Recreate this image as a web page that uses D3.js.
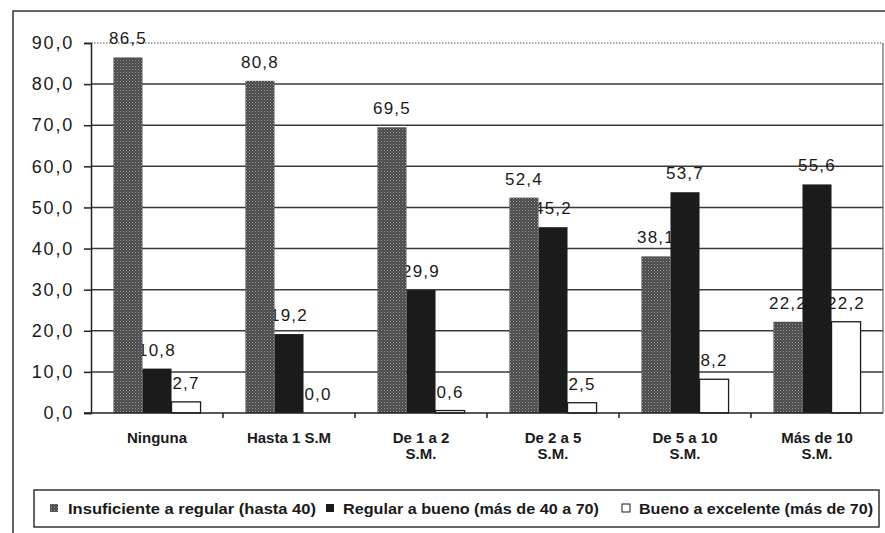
<!DOCTYPE html>
<html lang="es">
<head>
<meta charset="UTF-8">
<script src="https://d3js.org/d3.v7.min.js"></script>
<style>
body { margin: 0; background: #fff; }
svg { display: block; }
text { font-family: "Liberation Sans", Arial, sans-serif; fill: #1a1a1a; }
</style>
</head>
<body>
<svg id="chart" width="885" height="533"></svg>
<script>
// categories (x groups), two lines each
var categories = ["Ninguna", "Hasta 1 S.M", "De 1 a 2 S.M.", "De 2 a 5 S.M.", "De 5 a 10 S.M.", "Más de 10 S.M."];
var categoryLines = [["Ninguna"], ["Hasta 1 S.M"], ["De 1 a 2", "S.M."], ["De 2 a 5", "S.M."], ["De 5 a 10", "S.M."], ["Más de 10", "S.M."]];
var seriesNames = ["Insuficiente a regular (hasta 40)", "Regular a bueno (más de 40 a 70)", "Bueno a excelente (más de 70)"];
var insuficiente = [86.5, 80.8, 69.5, 52.4, 38.1, 22.2];
var regular = [10.8, 19.2, 29.9, 45.2, 53.7, 55.6];
var bueno = [2.7, 0.0, 0.6, 2.5, 8.2, 22.2];
var yTicks = [0, 10, 20, 30, 40, 50, 60, 70, 80, 90];

var svg = d3.select("#chart");
var margin = {left: 91, right: 2, top: 43, bottom: 120};
var W = +svg.attr("width"), H = +svg.attr("height");
var FONT = "'Liberation Sans', Arial, sans-serif";

var locale = d3.formatLocale({decimal: ",", thousands: ".", grouping: [3], currency: ["", ""]});
var fmt = locale.format(".1f");

var series = [insuficiente, regular, bueno];
var data = [];
categories.forEach(function(c, i) {
    series.forEach(function(s, j) {
        data.push({cat: c, ser: seriesNames[j], idx: j, value: s[i]});
    });
});

var y = d3.scaleLinear().domain([0, 90]).range([H - margin.bottom, margin.top]);
var x0 = d3.scaleBand().domain(categories)
    .range([margin.left, W - margin.right])
    .paddingInner(0.34).paddingOuter(0.17);
var x1 = d3.scaleBand().domain(seriesNames).range([0, x0.bandwidth()]);

// pattern for the grey stippled bars
var defs = svg.append("defs");
var pat = defs.append("pattern").attr("id", "stipple")
    .attr("width", 3).attr("height", 3).attr("patternUnits", "userSpaceOnUse");
pat.append("rect").attr("width", 3).attr("height", 3).attr("fill", "#4a4a4a");
pat.append("rect").attr("width", 1).attr("height", 1).attr("fill", "#9a9a9a");
pat.append("rect").attr("x", 1.5).attr("y", 1.5).attr("width", 1).attr("height", 1).attr("fill", "#7a7a7a");

var fills = ["url(#stipple)", "#1b1b1b", "#ffffff"];

// outer frame
svg.append("path")
    .attr("d", "M13,533 L13,11 L885,11")
    .attr("fill", "none").attr("stroke", "#333").attr("stroke-width", 1.5);

// gridlines
svg.append("g").selectAll("line")
    .data(yTicks.filter(function(d) { return d > 0 && d < 90; }))
    .enter().append("line")
    .attr("x1", margin.left).attr("x2", W - margin.right)
    .attr("y1", function(d) { return y(d); }).attr("y2", function(d) { return y(d); })
    .attr("stroke", "#3a3a3a").attr("stroke-width", 1.5);

// plot area top (dotted) and right border
svg.append("line")
    .attr("x1", margin.left).attr("x2", W - margin.right)
    .attr("y1", y(90)).attr("y2", y(90))
    .attr("stroke", "#555").attr("stroke-width", 1.2).attr("stroke-dasharray", "1.5,1.5");
svg.append("line")
    .attr("x1", W - margin.right).attr("x2", W - margin.right)
    .attr("y1", y(90)).attr("y2", y(0))
    .attr("stroke", "#444").attr("stroke-width", 1);

// value labels (bars are drawn over them, as in the original)
svg.append("g").selectAll("text")
    .data(data)
    .enter().append("text")
    .attr("x", function(d) { return x0(d.cat) + x1(d.ser) + x1.bandwidth() / 2; })
    .attr("y", function(d) { return y(d.value) - 13; })
    .attr("text-anchor", "middle")
    .style("font-family", FONT)
    .style("font-size", "17px")
    .style("letter-spacing", "1.2px")
    .text(function(d) { return fmt(d.value); });

// bars
svg.append("g").selectAll("rect")
    .data(data)
    .enter().append("rect")
    .attr("x", function(d) { return x0(d.cat) + x1(d.ser); })
    .attr("y", function(d) { return y(d.value); })
    .attr("width", x1.bandwidth())
    .attr("height", function(d) { return y(0) - y(d.value); })
    .attr("fill", function(d) { return fills[d.idx]; })
    .attr("stroke", function(d) { return d.idx === 2 ? "#1b1b1b" : "none"; })
    .attr("stroke-width", 1.3);

// y axis
var yAxis = d3.axisLeft(y).tickValues(yTicks).tickSize(7).tickFormat(fmt);
var gy = svg.append("g")
    .attr("transform", "translate(" + margin.left + ",0)")
    .call(yAxis);
gy.select(".domain").attr("stroke", "#222").attr("stroke-width", 1.5);
gy.selectAll(".tick line").attr("stroke", "#222").attr("stroke-width", 1.5);
gy.selectAll(".tick text")
    .attr("x", -17)
    .style("font-size", "18px")
    .style("letter-spacing", "1.8px")
    .style("font-family", FONT)
    .attr("fill", "#1a1a1a");

// x axis line and group boundary ticks
svg.append("line")
    .attr("x1", margin.left - 7).attr("x2", W - margin.right)
    .attr("y1", y(0)).attr("y2", y(0))
    .attr("stroke", "#222").attr("stroke-width", 1.5);
var gap = (x0.step() - x0.bandwidth()) / 2;
var bounds = categories.map(function(c) { return x0(c) - gap; });
svg.append("g").selectAll("line")
    .data(bounds.slice(1))
    .enter().append("line")
    .attr("x1", function(d) { return d; }).attr("x2", function(d) { return d; })
    .attr("y1", y(0)).attr("y2", y(0) + 5)
    .attr("stroke", "#222").attr("stroke-width", 1.5);

// category labels
var xl = svg.append("g").selectAll("text")
    .data(categories)
    .enter().append("text")
    .attr("x", function(d) { return x0(d) + x0.bandwidth() / 2; })
    .attr("y", y(0) + 30)
    .attr("text-anchor", "middle")
    .style("font-family", FONT)
    .style("font-size", "15px")
    .style("font-weight", "bold");
xl.each(function(d, i) {
    var t = d3.select(this);
    categoryLines[i].forEach(function(line, k) {
        t.append("tspan")
            .attr("x", x0(d) + x0.bandwidth() / 2)
            .attr("dy", k === 0 ? 0 : 16)
            .text(line);
    });
});

// legend
var legendBox = {x: 34, y: 490, w: 845, h: 37};
svg.append("rect")
    .attr("x", legendBox.x).attr("y", legendBox.y)
    .attr("width", legendBox.w).attr("height", legendBox.h)
    .attr("fill", "#fff").attr("stroke", "#333").attr("stroke-width", 1.5);
var legendMarkX = [50, 326, 622];
var legendTextX = [68, 343, 639];
var legendTextW = [248, 256, 234];
var lg = svg.append("g").selectAll("g")
    .data(seriesNames)
    .enter().append("g");
lg.append("rect")
    .attr("x", function(d, i) { return legendMarkX[i]; })
    .attr("y", 504)
    .attr("width", 8).attr("height", 8)
    .attr("fill", function(d, i) { return fills[i]; })
    .attr("stroke", function(d, i) { return i === 2 ? "#1b1b1b" : "none"; })
    .attr("stroke-width", 1);
lg.append("text")
    .attr("x", function(d, i) { return legendTextX[i]; })
    .attr("y", 514)
    .attr("textLength", function(d, i) { return legendTextW[i]; })
    .attr("lengthAdjust", "spacingAndGlyphs")
    .style("font-family", FONT)
    .style("font-size", "15px")
    .style("font-weight", "bold")
    .text(function(d) { return d; });
</script>
</body>
</html>
